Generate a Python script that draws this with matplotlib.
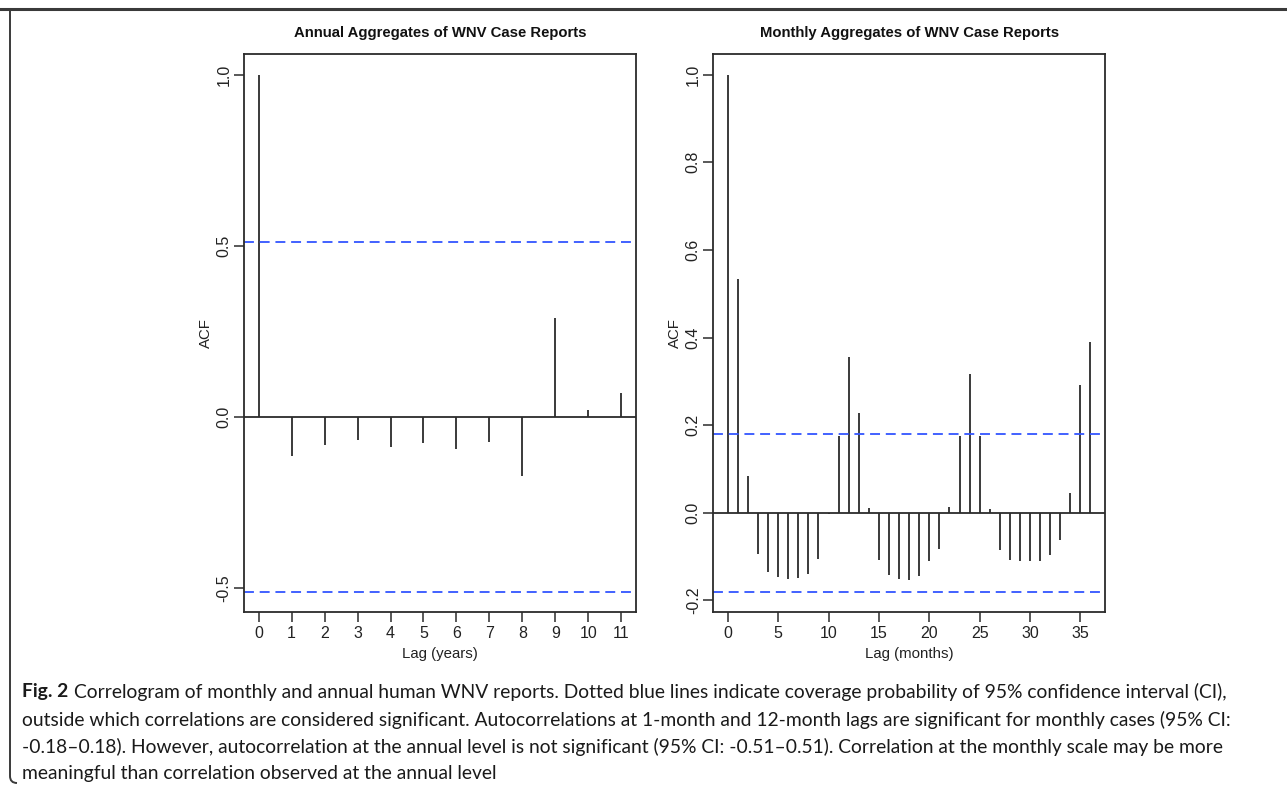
import matplotlib
matplotlib.use("Agg")
import matplotlib.pyplot as plt
from matplotlib.path import Path
from matplotlib.patches import PathPatch
from matplotlib.lines import Line2D

# autocorrelation values by lag
annual_lags = list(range(12))
annual_acf = [1.0, -0.114, -0.083, -0.068, -0.088, -0.076, -0.092, -0.072,
              -0.172, 0.290, 0.021, 0.070]
annual_ci = 0.51

monthly_lags = list(range(37))
monthly_acf = [1.0, 0.533, 0.084, -0.093, -0.136, -0.147, -0.151, -0.148,
               -0.140, -0.106, -0.002, 0.176, 0.356, 0.227, 0.011, -0.107,
               -0.141, -0.151, -0.153, -0.144, -0.110, -0.082, 0.013, 0.176,
               0.316, 0.175, 0.008, -0.085, -0.107, -0.109, -0.110, -0.109,
               -0.096, -0.062, 0.045, 0.291, 0.390]
monthly_ci = 0.18

caption_lines = [
    "Correlogram of monthly and annual human WNV reports. Dotted blue lines indicate coverage probability of 95% confidence interval (CI),",
    "outside which correlations are considered significant. Autocorrelations at 1-month and 12-month lags are significant for monthly cases (95% CI:",
    "-0.18\u20130.18). However, autocorrelation at the annual level is not significant (95% CI: -0.51\u20130.51). Correlation at the monthly scale may be more",
    "meaningful than correlation observed at the annual level",
]

W, H = 1287, 786
fig = plt.figure(figsize=(W / 100, H / 100), dpi=100)
plt.rcParams['font.family'] = ['Liberation Sans', 'DejaVu Sans']

ink = "#2b2b2b"
blue = "#3355ff"


def acf_panel(rect, lags, acf, ci, title, xlabel, xticks, yticks, yfmt):
    ax = fig.add_axes(rect)
    ax.vlines(lags, 0, acf, color=ink, lw=1.3)
    ax.axhline(0, color=ink, lw=1.3)
    for c in (ci, -ci):
        ax.axhline(c, color=blue, lw=1.3, dashes=(5.5, 3.2))
    n = lags[-1]
    ax.set_xlim(-0.04 * n, n * 1.04)
    lo, hi = -ci, 1.0
    pad = 0.04 * (hi - lo)
    ax.set_ylim(lo - pad, hi + pad)
    ax.set_xticks(xticks)
    ax.set_yticks(yticks)
    ax.set_yticklabels([yfmt.format(v) for v in yticks], rotation=90, va="center")
    ax.tick_params(direction="out", length=7, width=1.1, color=ink,
                   labelsize=11.5, labelcolor="#222222", pad=3)
    ax.tick_params(axis="y", pad=2)
    for s in ax.spines.values():
        s.set_color(ink)
        s.set_linewidth(1.3)
    ax.set_title(title, fontsize=10.7, fontweight="bold", pad=12, color="#111111")
    ax.set_xlabel(xlabel, fontsize=10.8, labelpad=4, color="#222222")
    ax.set_ylabel("ACF", fontsize=10.8, labelpad=3, color="#222222")
    return ax


def frac(x0, y0, x1, y1):
    return [x0 / W, 1 - y1 / H, (x1 - x0) / W, (y1 - y0) / H]


acf_panel(frac(244.2, 54, 635.7, 612.3), annual_lags, annual_acf, annual_ci,
          "Annual Aggregates of WNV Case Reports", "Lag (years)",
          annual_lags, [-0.5, 0.0, 0.5, 1.0], "{:.1f}")
acf_panel(frac(713.3, 54, 1105, 612.3), monthly_lags, monthly_acf, monthly_ci,
          "Monthly Aggregates of WNV Case Reports", "Lag (months)",
          list(range(0, 36, 5)), [-0.2, 0.0, 0.2, 0.4, 0.6, 0.8, 1.0], "{:.1f}")

# frame around figure and caption: top rule plus left side with rounded foot
frame = "#3a3a3a"
fig.add_artist(Line2D([0.0, 1.0], [1 - 9 / H, 1 - 9 / H], transform=fig.transFigure,
                      color=frame, lw=2.2))
px, py = 10, 9
r = 7
verts = [(px, py), (px, H - 3 - r), (px, H - 3), (px + r, H - 3)]
codes = [Path.MOVETO, Path.LINETO, Path.CURVE3, Path.CURVE3]
verts = [(x / W, 1 - y / H) for x, y in verts]
fig.add_artist(PathPatch(Path(verts, codes), transform=fig.transFigure,
                         fill=False, ec=frame, lw=1.4))

# caption
cap_font = ['Lato', 'DejaVu Sans']
cap_size = 13.9
cap_color = "#1a1a1a"
x0 = 22 / W
ys = [692, 719.5, 747, 774]
fig.canvas.draw()
rend = fig.canvas.get_renderer()
t = fig.text(x0, 1 - ys[0] / H, "Fig. 2", fontsize=cap_size, fontweight="bold",
             family=cap_font, va="center", color=cap_color)
bb = t.get_window_extent(renderer=rend)
fig.text(bb.x1 / W + 6 / W, 1 - ys[0] / H, caption_lines[0], fontsize=cap_size,
         family=cap_font, va="center", color=cap_color)
for line, y in zip(caption_lines[1:], ys[1:]):
    fig.text(x0, 1 - y / H, line, fontsize=cap_size, family=cap_font,
             va="center", color=cap_color)

fig.savefig("out.png", dpi=100)
